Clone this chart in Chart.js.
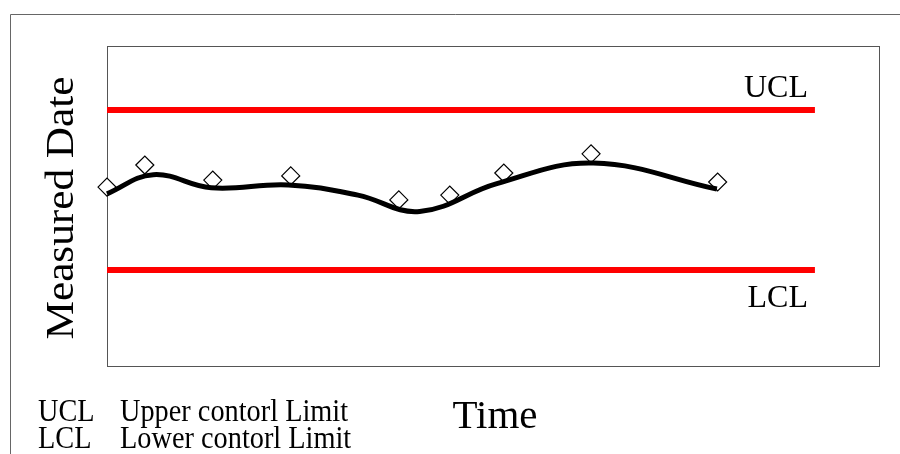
<!DOCTYPE html>
<html><head><meta charset="utf-8">
<script src="https://cdn.jsdelivr.net/npm/chart.js@4"></script>
<style>html,body{margin:0;padding:0;background:#fff}#wrap{width:900px;height:454px;position:relative}</style>
</head><body><div id="wrap"><canvas id="c"></canvas></div>
<script>
// ---- data (x: time units 0-100, y: measured value units 0-100) ----
const measuredTime  = [0, 4.9, 13.7, 23.8, 37.8, 44.4, 51.4, 62.7, 79.1];
const measuredValue = [55.9, 62.8, 58.1, 59.4, 51.9, 53.4, 60.3, 66.3, 57.5];
const trendTime  = [0, 6.0, 13.5, 23.5, 32.5, 40.5, 50.5, 63.0, 79.0];
const trendValue = [53.8, 59.8, 55.7, 56.6, 53.4, 48.3, 57.0, 63.4, 55.3];
const limitTime = [0, 91.7];
const uclValue = 80;
const lclValue = 30;
const limitNames = ['UCL', 'LCL'];
const legendRows = [['UCL', 'Upper contorl Limit'], ['LCL', 'Lower contorl Limit']];
const xTitle = 'Time';
const yTitle = 'Measured Date';

const pts = (xs, ys) => xs.map((x, i) => ({x, y: ys[i]}));
const flat = (xs, v) => xs.map(x => ({x, y: v}));
const SERIF = '"Liberation Serif", "Times New Roman", serif';

const decor = {
  id: 'decor',
  beforeDraw(chart) {
    const ctx = chart.ctx;
    ctx.save();
    ctx.fillStyle = '#fff';
    ctx.fillRect(0, 0, chart.width, chart.height);
    ctx.strokeStyle = '#666';
    ctx.lineWidth = 1;
    ctx.beginPath();
    ctx.moveTo(10.5, chart.height);
    ctx.lineTo(10.5, 14.5);
    ctx.lineTo(chart.width, 14.5);
    ctx.stroke();
    ctx.restore();
  },
  beforeDatasetsDraw(chart) {
    const {ctx, chartArea: a} = chart;
    ctx.save();
    ctx.strokeStyle = '#555';
    ctx.lineWidth = 1;
    ctx.strokeRect(Math.round(a.left) + 0.5, Math.round(a.top) + 0.5, Math.round(a.right - a.left), Math.round(a.bottom - a.top));
    ctx.restore();
  },
  afterDraw(chart) {
    const {ctx, chartArea: a, scales: {x, y}} = chart;
    ctx.save();
    ctx.fillStyle = '#000';
    ctx.textBaseline = 'alphabetic';
    ctx.font = '32px ' + SERIF;
    ctx.textAlign = 'right';
    const xr = x.getPixelForValue(limitTime[1]) - 7;
    ctx.fillText(limitNames[0], xr, y.getPixelForValue(uclValue) - 13);
    ctx.fillText(limitNames[1], xr, y.getPixelForValue(lclValue) + 37);
    ctx.font = '41px ' + SERIF;
    ctx.textAlign = 'center';
    ctx.fillText(xTitle, (a.left + a.right) / 2 + 2, a.bottom + 62);
    ctx.save();
    ctx.translate(73, (a.top + a.bottom) / 2 + 2);
    ctx.rotate(-Math.PI / 2);
    ctx.scale(1.03, 0.93);
    ctx.font = '42px ' + SERIF;
    ctx.fillText(yTitle, 0, 0);
    ctx.restore();
    ctx.font = '32px ' + SERIF;
    ctx.textAlign = 'left';
    legendRows.forEach((r, i) => {
      ctx.save();
      ctx.translate(0, 421 + i * 27);
      ctx.scale(0.885, 1);
      ctx.fillText(r[0], 38 / 0.885, 0);
      ctx.fillText(r[1], 120 / 0.885, 0);
      ctx.restore();
    });
    ctx.restore();
  }
};

new Chart(document.getElementById('c'), {
  type: 'line',
  data: {
    datasets: [
      {data: flat(limitTime, uclValue), borderColor: '#ff0000', borderWidth: 6, pointRadius: 0, tension: 0, clip: false},
      {data: flat(limitTime, lclValue), borderColor: '#ff0000', borderWidth: 6, pointRadius: 0, tension: 0, clip: false},
      {data: pts(trendTime, trendValue), borderColor: '#000', borderWidth: 5, pointRadius: 0, tension: 0.4, clip: false},
      {data: pts(measuredTime, measuredValue), showLine: false, pointStyle: 'rectRot', pointRadius: 9, pointBorderWidth: 1.2, pointBorderColor: '#000', pointBackgroundColor: '#fff', clip: false}
    ]
  },
  options: {
    responsive: true,
    maintainAspectRatio: false,
    animation: false,
    events: [],
    layout: {padding: {left: 107, top: 46, right: 21, bottom: 88}},
    plugins: {legend: {display: false}, tooltip: {enabled: false}, title: {display: false}},
    scales: {
      x: {type: 'linear', min: 0, max: 100, display: false},
      y: {type: 'linear', min: 0, max: 100, display: false}
    }
  },
  plugins: [decor]
});
</script></body></html>
